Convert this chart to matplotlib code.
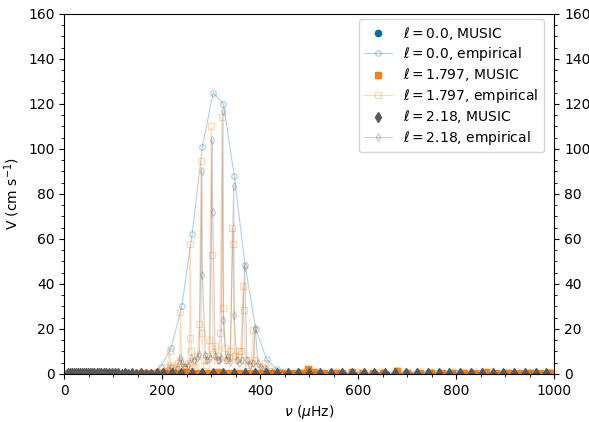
import matplotlib.pyplot as plt
from matplotlib.ticker import AutoMinorLocator

# colours (tableau colorblind)
c0, c1, c2 = '#006BA4', '#FF800E', '#595959'

# --- l = 0 ---
nu0_music = [23, 45, 67, 88, 110, 132, 153, 175, 197, 219, 243, 264, 285, 306,
             327, 349, 371, 393, 415, 437, 458, 480, 502, 524, 546, 568, 590,
             612, 634, 657, 679, 701, 723, 745, 767, 789, 811, 839, 861, 883,
             905, 928, 951, 975]
V0_music = [0.1] * len(nu0_music)

nu0_emp = [175, 197, 218, 240, 261, 282, 304, 325, 347, 369, 391, 413, 434,
           456, 478, 499, 521, 543, 564, 586, 608, 629, 651, 673, 694, 716,
           738, 759, 781, 803, 824, 846, 868, 889, 911, 933, 954, 976, 998]
V0_emp = [0.5, 3, 11.5, 30, 62, 101, 125, 120, 88, 48.5, 20, 6.5, 2,
          0.6, 0.3, 0.2, 0.2, 0.2, 0.2, 0.2, 0.2, 0.2, 0.2, 0.2, 0.2, 0.2,
          0.2, 0.2, 0.2, 0.2, 0.2, 0.2, 0.2, 0.2, 0.2, 0.2, 0.2, 0.2, 0.2]

# --- l = 1.797 ---
nu1_music = [5, 150, 165, 180, 195, 210, 226, 232, 248, 253, 270, 292, 314, 336,
             357, 380, 402, 423, 445, 466, 487, 498, 510, 531, 553, 567, 587,
             609, 630, 651, 679, 700, 727, 748, 770, 792, 816, 838, 860, 882,
             905, 928, 950, 970, 991]
V1_music = [0.4, 0.3, 0.4, 0.3, 0.5, 0.6, 0.4, 0.5, 0.8, 0.4, 0.6, 0.5, 0.7, 0.4,
            0.6, 0.4, 0.5, 0.6, 0.4, 0.5, 0.6, 2.0, 0.8, 0.4, 0.5, 0.6, 0.7,
            0.4, 0.5, 0.3, 1.3, 0.4, 0.6, 0.5, 0.4, 0.3, 0.6, 0.4, 0.7, 0.5,
            0.4, 0.5, 0.6, 0.4, 0.5]

nu1_emp = [200, 205, 210, 215, 218, 222, 228, 233, 236, 237, 240, 245, 249,
           252, 256, 257, 259, 263, 267, 272, 276, 279, 281, 285, 289, 293,
           296, 300, 301, 304, 307, 311, 314, 318, 322, 324, 329, 333, 336,
           339, 343, 344, 348, 352, 357, 360, 365, 366, 370, 375, 381, 386,
           389, 395, 403, 410, 418, 430, 445, 466, 487, 498, 510, 531, 553,
           575, 598, 620, 645, 679, 700, 727, 748, 770, 792, 816, 838, 860,
           882, 905, 928, 950, 970, 991]
V1_emp = [1.0, 1.5, 3, 10, 4, 2.5, 3, 5, 6, 27.4, 3, 2, 3,
          5, 16, 57.6, 10, 4, 3, 8, 22, 94.6, 18, 6, 4, 8,
          15, 110, 53, 9, 12.6, 6, 8, 18, 114, 29.5, 11.4, 6, 7,
          10, 65, 57.6, 8, 6, 10, 10, 39, 28.4, 6, 4, 5, 19.5,
          6, 3, 2, 4.7, 1.5, 1, 0.8, 0.6, 0.7, 2.2, 0.8, 0.6, 0.7,
          0.6, 0.7, 0.6, 0.8, 1.6, 0.7, 0.6, 0.7, 0.6, 0.7, 0.8, 0.6, 0.7,
          0.6, 0.7, 0.6, 0.7, 0.6, 0.7]

# --- l = 2.18 ---
nu2_music = [8, 12, 16, 20, 24, 28, 32, 36, 40, 44, 48, 52, 57, 61, 66, 71,
             76, 81, 86, 92, 98, 104, 110, 117, 124, 131, 139, 147, 156, 166,
             177, 189, 201, 219, 238, 261, 281, 303, 324, 346, 368, 390, 412,
             435, 456, 478, 500, 522, 544, 566, 588, 611, 632, 654, 676, 698,
             720, 742, 764, 786, 808, 830, 852, 874, 896, 918, 940, 962, 984]
V2_music = [0.2, 0.3, 0.4, 0.3, 0.4, 0.5, 0.3, 0.4, 0.3, 0.4, 0.2, 0.4, 0.3, 0.3,
            0.4, 0.2, 0.3, 0.2, 0.3, 0.2, 0.3, 0.2, 0.4, 0.1, 0.2, 0.1, 0.2,
            0.1, 0.2, 0.1, 0.1, 0.2, 0.3, 0.4, 0.5, 0.4, 0.5, 0.4, 0.5, 0.4,
            0.5, 0.4, 0.3, 0.4, 0.5, 0.4, 0.3, 0.5, 0.4, 0.3, 0.4, 0.5, 0.4,
            0.3, 0.4, 0.3, 0.4, 0.3, 0.4, 0.3, 0.4, 0.3, 0.4, 0.3, 0.4, 0.3,
            0.4, 0.3, 0.4]

nu2_emp = [200, 212, 217, 224, 230, 236, 240, 247, 253, 259, 264, 270, 276,
           281, 282, 288, 292, 297, 302, 303, 308, 313, 316, 320, 324, 325,
           330, 335, 339, 346, 347, 352, 357, 362, 368, 373, 380, 385, 390,
           395, 402, 412, 425, 445, 480, 520, 560, 600, 650, 700, 750, 800,
           850, 900, 950, 990]
V2_emp = [0.5, 2, 3, 1.5, 2, 7, 5, 3, 4, 7, 6, 7, 9,
          90, 44, 8.4, 6, 7, 104, 72, 8, 6, 6, 7, 117, 24,
          6, 8, 5.5, 83.6, 26, 6, 5, 6, 47.7, 6, 4, 5, 20.3,
          5, 3, 2, 1, 0.6, 0.5, 0.5, 0.5, 0.5, 0.5, 0.5, 0.5, 0.5,
          0.5, 0.5, 0.5, 0.5]

fig = plt.figure(figsize=(5.89, 4.22), dpi=100)
ax = fig.add_axes([0.109, 0.114, 0.832, 0.853])

ax.plot(nu0_music, V0_music, 'o', color=c0, ms=4.5, ls='none',
        label=r'$\ell = 0.0$, MUSIC')
ax.plot(nu0_emp, V0_emp, 'o-', color=c0, alpha=0.3, lw=0.8, ms=4,
        mfc='none', mew=0.9, label=r'$\ell = 0.0$, empirical')
ax.plot(nu1_music, V1_music, 's', color=c1, ms=4.5, ls='none',
        label=r'$\ell = 1.797$, MUSIC')
ax.plot(nu1_emp, V1_emp, 's-', color=c1, alpha=0.3, lw=0.8, ms=4,
        mfc='none', mew=0.9, label=r'$\ell = 1.797$, empirical')
ax.plot(nu2_music, V2_music, 'd', color=c2, ms=5, ls='none',
        label=r'$\ell = 2.18$, MUSIC')
ax.plot(nu2_emp, V2_emp, 'd-', color=c2, alpha=0.3, lw=0.8, ms=4,
        mfc='none', mew=0.9, label=r'$\ell = 2.18$, empirical')

ax.set_xlim(0, 1000)
ax.set_ylim(0, 160)
ax.set_xlabel(r'$\nu$ ($\mu$Hz)')
ax.set_ylabel(r'V (cm s$^{-1}$)')
ax.xaxis.set_minor_locator(AutoMinorLocator())
ax.yaxis.set_minor_locator(AutoMinorLocator())
ax.tick_params(which='both', right=True, labelright=True)
ax.legend(loc='upper right', bbox_to_anchor=(0.9796, 0.986), borderaxespad=0,
          labelspacing=0.25)

plt.savefig('out.png')
